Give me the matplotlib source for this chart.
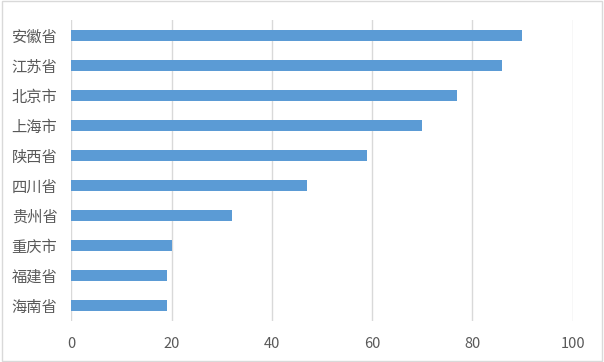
import matplotlib
matplotlib.use("Agg")
import matplotlib.pyplot as plt
from matplotlib.patches import Rectangle

plt.rcParams['font.family'] = ['Noto Sans CJK SC', 'DejaVu Sans']

# 省市及数值（自上而下）
provinces = ['安徽省', '江苏省', '北京市', '上海市', '陕西省',
             '四川省', '贵州省', '重庆市', '福建省', '海南省']
values = [90, 86, 77, 70, 59, 47, 32, 20, 19, 19]
xticks = [0, 20, 40, 60, 80, 100]

fig = plt.figure(figsize=(6.04, 3.62), dpi=100)
ax = fig.add_axes([0.118, 0.1146, 0.83, 0.8288])

ypos = list(range(len(provinces)))
ax.barh(ypos, values, height=0.37, color='#5B9BD5', zorder=3)
ax.set_ylim(len(provinces) - 0.5, -0.5)
ax.set_yticks(ypos)
ax.set_yticklabels(provinces)
ax.set_xlim(0, 100)
ax.set_xticks(xticks)
ax.set_xticklabels([str(t) for t in xticks])

ax.grid(axis='x', color='#D9D9D9', linewidth=1, zorder=0)
for s in ax.spines.values():
    s.set_visible(False)
ax.tick_params(axis='y', length=0, pad=10, labelsize=11, labelcolor='#595959')
ax.tick_params(axis='x', length=0, pad=12, labelsize=10.5, labelcolor='#595959')

# 图表外框
fig.patches.append(Rectangle((0.003, 0.004), 0.994, 0.992, transform=fig.transFigure,
                             fill=False, edgecolor='#D9D9D9', linewidth=1))

fig.savefig('out.png', dpi=100)
